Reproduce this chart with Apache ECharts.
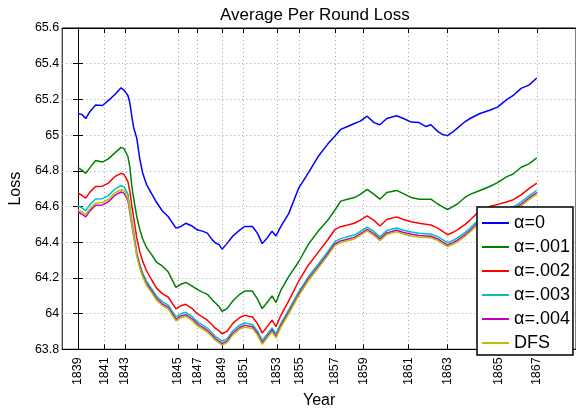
<!DOCTYPE html>
<html>
<head>
<meta charset="utf-8">
<script src="https://cdn.jsdelivr.net/npm/echarts@6/dist/echarts.min.js"></script>
<style>
  html, body { margin: 0; padding: 0; background: #fff; }
  #chart { width: 576px; height: 414px; }
</style>
</head>
<body>
<div id="chart"></div>
<script>
// x position of each sample (round index, 1839 starts at 0)
var rounds = [0,4,8,12,18,25,31,38,44,47,49,51,53,55,57,60,63,66,70,75,
  80,86,92,100,105,110,117,119,122,127,132,137,140,144,147,152,158,165,170,178,
  183,188,193,198,202,207,215,225,235,245,255,262,268,275,282,288,295,302,308,315,
  325,332,340,348,355,360,367,372,377,382,387,395,400,410,420,428,437,444,452,460,468];

// where each year starts
var yearTicks = [0,27,48,102,122,147,169,203,226,262,291,337,377,429,468];
var yearLabels = ['1839','1841','1843','1845','1847','1849','1851','1853','1855','1857','1859','1861','1863','1865','1867'];

var alpha0 = [65.121,65.116,65.093,65.130,65.168,65.166,65.193,65.229,65.265,65.252,
  65.256,65.222,65.179,65.103,65.038,64.983,64.869,64.788,64.723,64.674,
  64.625,64.576,64.544,64.479,64.488,64.506,64.489,64.496,64.468,64.462,
  64.451,64.413,64.397,64.386,64.361,64.392,64.435,64.468,64.488,64.488,
  64.451,64.392,64.424,64.461,64.435,64.489,64.560,64.701,64.788,64.880,
  64.951,64.994,65.032,65.048,65.065,65.078,65.106,65.070,65.058,65.093,
  65.108,65.093,65.073,65.070,65.048,65.058,65.021,65.003,64.997,65.016,
  65.039,65.076,65.093,65.121,65.139,65.157,65.197,65.222,65.262,65.280,
  65.320];
var alpha001 = [64.819,64.804,64.786,64.815,64.858,64.849,64.867,64.902,64.931,64.924,
  64.915,64.880,64.820,64.712,64.641,64.544,64.473,64.419,64.370,64.332,
  64.289,64.267,64.234,64.147,64.164,64.175,64.153,64.158,64.134,64.120,
  64.108,64.077,64.061,64.039,64.013,64.028,64.071,64.108,64.126,64.126,
  64.082,64.028,64.062,64.099,64.062,64.131,64.207,64.289,64.388,64.461,
  64.524,64.579,64.630,64.641,64.650,64.668,64.696,64.668,64.641,64.678,
  64.690,64.672,64.650,64.641,64.641,64.641,64.614,64.598,64.583,64.598,
  64.614,64.652,64.668,64.690,64.712,64.734,64.766,64.782,64.820,64.839,
  64.872];
var alpha002 = [64.674,64.663,64.647,64.679,64.712,64.714,64.731,64.769,64.786,64.780,
  64.772,64.739,64.685,64.603,64.533,64.424,64.348,64.294,64.240,64.191,
  64.144,64.112,64.093,64.026,64.044,64.052,64.026,64.033,63.998,63.982,
  63.963,63.936,63.918,63.903,63.887,63.900,63.945,63.978,63.990,63.981,
  63.945,63.891,63.927,63.963,63.927,63.990,64.071,64.180,64.271,64.343,
  64.415,64.470,64.487,64.496,64.506,64.524,64.547,64.522,64.491,64.527,
  64.542,64.527,64.515,64.506,64.500,64.496,64.479,64.460,64.442,64.454,
  64.469,64.500,64.524,64.578,64.600,64.612,64.625,64.638,64.665,64.700,
  64.731];
var alpha003 = [64.604,64.593,64.577,64.609,64.642,64.644,64.661,64.699,64.716,64.710,
  64.702,64.669,64.600,64.523,64.453,64.344,64.278,64.229,64.180,64.141,
  64.099,64.067,64.048,63.981,63.999,64.007,63.981,63.988,63.953,63.937,
  63.918,63.891,63.873,63.858,63.845,63.858,63.903,63.935,63.947,63.939,
  63.903,63.850,63.885,63.920,63.885,63.945,64.021,64.120,64.206,64.276,
  64.348,64.403,64.420,64.430,64.440,64.460,64.485,64.460,64.430,64.465,
  64.480,64.467,64.457,64.450,64.448,64.446,64.431,64.414,64.397,64.409,
  64.424,64.455,64.479,64.533,64.560,64.572,64.585,64.598,64.625,64.660,
  64.691];
var alpha004 = [64.569,64.558,64.542,64.574,64.607,64.609,64.626,64.664,64.681,64.675,
  64.667,64.634,64.565,64.495,64.433,64.331,64.265,64.216,64.167,64.128,
  64.086,64.054,64.035,63.968,63.986,63.994,63.968,63.975,63.940,63.924,
  63.905,63.878,63.860,63.845,63.832,63.845,63.890,63.922,63.934,63.926,
  63.890,63.837,63.872,63.907,63.872,63.932,64.008,64.107,64.193,64.263,
  64.335,64.390,64.407,64.417,64.427,64.447,64.472,64.447,64.417,64.452,
  64.467,64.454,64.444,64.437,64.435,64.433,64.418,64.401,64.384,64.396,
  64.411,64.442,64.466,64.520,64.547,64.559,64.572,64.585,64.612,64.647,
  64.678];
var dfs = [64.582,64.571,64.555,64.587,64.620,64.622,64.639,64.677,64.694,64.688,
  64.680,64.647,64.578,64.501,64.431,64.322,64.256,64.207,64.158,64.119,
  64.077,64.045,64.026,63.959,63.977,63.985,63.959,63.966,63.931,63.915,
  63.896,63.869,63.851,63.836,63.823,63.836,63.881,63.913,63.925,63.917,
  63.881,63.828,63.863,63.898,63.863,63.923,63.999,64.098,64.184,64.254,
  64.326,64.381,64.398,64.408,64.418,64.438,64.463,64.438,64.408,64.443,
  64.458,64.445,64.435,64.428,64.426,64.424,64.409,64.392,64.375,64.387,
  64.402,64.433,64.457,64.511,64.538,64.550,64.563,64.576,64.603,64.638,
  64.669];

var seriesNames = ['\u03b1=0', '\u03b1=.001', '\u03b1=.002', '\u03b1=.003', '\u03b1=.004', 'DFS'];
var seriesValues = [alpha0, alpha001, alpha002, alpha003, alpha004, dfs];
var seriesColors = ['#0000ff', '#008000', '#ff0000', '#00bfbf', '#bf00bf', '#bfbf00'];

var myChart = echarts.init(document.getElementById('chart'));

function pairs(values) {
  return values.map(function (v, i) { return [rounds[i], v]; });
}

var dotted = { show: true, lineStyle: { color: '#a8a8a8', width: 1, type: [1, 3] } };
var xMin = -16, xMax = 508;

var option = {
  animation: false,
  textStyle: { fontFamily: 'Liberation Sans, Arial, sans-serif', color: '#000' },
  title: {
    text: 'Average Per Round Loss',
    left: 215,
    top: 2,
    textStyle: { fontSize: 17, fontWeight: 'normal', color: '#000' }
  },
  grid: { left: 54, top: 28, width: 524, height: 332, show: true, borderColor: '#000', borderWidth: 1 },
  legend: {
    orient: 'vertical',
    left: 477,
    top: 207,
    padding: [7, 3, 3, 5],
    icon: 'rect',
    itemWidth: 27,
    itemHeight: 2,
    itemGap: 6,
    backgroundColor: '#fff',
    borderColor: '#000',
    borderWidth: 1.5,
    textStyle: { fontSize: 18, lineHeight: 18, color: '#000' },
    data: seriesNames
  },
  xAxis: [{
    type: 'value',
    min: xMin,
    max: xMax,
    position: 'bottom',
    name: 'Year',
    nameLocation: 'middle',
    nameGap: 43,
    nameTextStyle: { fontSize: 16, color: '#000' },
    axisLine: { show: true, lineStyle: { color: '#000', width: 1 } },
    axisTick: { show: true, inside: true, length: 5, customValues: yearTicks, lineStyle: { color: '#000' } },
    axisLabel: {
      customValues: yearTicks,
      rotate: 90,
      margin: 8,
      fontSize: 12.5,
      color: '#000',
      formatter: function (v) { return yearLabels[yearTicks.indexOf(v)]; }
    },
    splitLine: dotted
  }, {
    type: 'value',
    min: xMin,
    max: xMax,
    position: 'top',
    axisLine: { show: true, lineStyle: { color: '#000', width: 1 } },
    axisTick: { show: true, inside: true, length: 5, customValues: yearTicks, lineStyle: { color: '#000' } },
    axisLabel: { show: false },
    splitLine: { show: false }
  }],
  yAxis: [{
    type: 'value',
    min: 63.8,
    max: 65.6,
    interval: 0.2,
    name: 'Loss',
    nameLocation: 'middle',
    nameGap: 22,
    nameTextStyle: { fontSize: 16, color: '#000' },
    axisLine: { show: true, lineStyle: { color: '#000', width: 1 } },
    axisTick: { show: true, inside: true, length: 5, lineStyle: { color: '#000' } },
    axisLabel: { margin: 3, fontSize: 12.5, color: '#000' },
    splitLine: dotted
  }, {
    type: 'value',
    min: 63.8,
    max: 65.6,
    interval: 0.2,
    position: 'right',
    axisLine: { show: true, lineStyle: { color: '#000', width: 1 } },
    axisTick: { show: true, inside: true, length: 5, lineStyle: { color: '#000' } },
    axisLabel: { show: false },
    splitLine: { show: false }
  }],
  series: seriesNames.map(function (name, i) {
    return {
      name: name,
      type: 'line',
      xAxisIndex: 0,
      yAxisIndex: 0,
      symbol: 'none',
      color: seriesColors[i],
      lineStyle: { color: seriesColors[i], width: 1.5 },
      data: pairs(seriesValues[i])
    };
  })
};

myChart.setOption(option);
</script>
</body>
</html>
